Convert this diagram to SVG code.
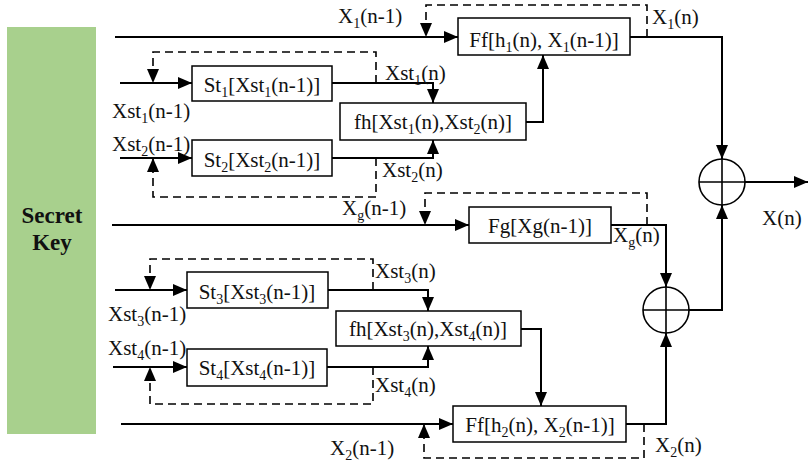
<svg xmlns="http://www.w3.org/2000/svg" width="808" height="464" viewBox="0 0 808 464">
<defs>
<marker id="ah" markerUnits="userSpaceOnUse" markerWidth="15" markerHeight="13" refX="14" refY="6" orient="auto">
<path d="M0,0 L14,6 L0,12 z" fill="#000"/>
</marker>
<style>
.box{fill:#fff;stroke:#000;stroke-width:1.5}
.t{font-family:"Liberation Serif","Times New Roman",serif;font-size:21px;fill:#111}
.s{font-size:14px}
.c{stroke:#000;stroke-width:2;fill:none}
.d{stroke:#000;stroke-width:1.6;fill:none;stroke-dasharray:8 5}
.k{font-family:"Liberation Serif","Times New Roman",serif;font-size:23px;font-weight:bold;fill:#111}
</style>
</defs>
<rect width="808" height="464" fill="#fff"/>

<g id="key">
<rect x="7" y="27" width="89" height="407" fill="#a8d08d"/>
<text class="k" x="52" y="223" text-anchor="middle">Secret</text>
<text class="k" x="52" y="250" text-anchor="middle">Key</text>
</g>

<g id="connectors">
<path class="c" d="M115,37 H458" marker-end="url(#ah)"/>
<path class="d" d="M647,37 V5 H426 V37" marker-end="url(#ah)"/>
<path class="c" d="M630,37 H722 V159" marker-end="url(#ah)"/>
<path class="c" d="M745,182 H808" marker-end="url(#ah)"/>
<path class="c" d="M689,310 H722 V205" marker-end="url(#ah)"/>

<path class="c" d="M120,83 H192" marker-end="url(#ah)"/>
<path class="d" d="M376,83 V52 H153 V83" marker-end="url(#ah)"/>
<path class="c" d="M332,83 H433 V103" marker-end="url(#ah)"/>
<path class="c" d="M120,158 H192" marker-end="url(#ah)"/>
<path class="d" d="M376,158 V197 H153 V158" marker-end="url(#ah)"/>
<path class="c" d="M332,158 H433 V140" marker-end="url(#ah)"/>
<path class="c" d="M526,122 H543 V55" marker-end="url(#ah)"/>

<path class="c" d="M112,225 H469" marker-end="url(#ah)"/>
<path class="d" d="M647,225 V193 H425 V225" marker-end="url(#ah)"/>
<path class="c" d="M611,225 H666 V287" marker-end="url(#ah)"/>

<path class="c" d="M115,290 H187" marker-end="url(#ah)"/>
<path class="d" d="M373,290 V259 H150 V290" marker-end="url(#ah)"/>
<path class="c" d="M328,290 H428 V311" marker-end="url(#ah)"/>
<path class="c" d="M113,367 H187" marker-end="url(#ah)"/>
<path class="d" d="M373,367 V404 H150 V367" marker-end="url(#ah)"/>
<path class="c" d="M327,367 H428 V346" marker-end="url(#ah)"/>
<path class="c" d="M521,329 H541 V406" marker-end="url(#ah)"/>

<path class="c" d="M121,424 H453" marker-end="url(#ah)"/>
<path class="d" d="M644,424 V458 H424 V424" marker-end="url(#ah)"/>
<path class="c" d="M626,424 H666 V333" marker-end="url(#ah)"/>
</g>

<g id="ff1">
<rect class="box" x="458" y="18" width="172" height="37"/>
<text class="t" x="544" y="47" text-anchor="middle">Ff[h<tspan class="s" dy="5">1</tspan><tspan dy="-5">(n), X</tspan><tspan class="s" dy="5">1</tspan><tspan dy="-5">(n-1)]</tspan></text>
</g>
<g id="st1">
<rect class="box" x="192" y="66" width="140" height="35"/>
<text class="t" x="262" y="92" text-anchor="middle">St<tspan class="s" dy="5">1</tspan><tspan dy="-5">[Xst</tspan><tspan class="s" dy="5">1</tspan><tspan dy="-5">(n-1)]</tspan></text>
</g>
<g id="fh1">
<rect class="box" x="340" y="103" width="186" height="37"/>
<text class="t" x="433" y="129" text-anchor="middle">fh[Xst<tspan class="s" dy="5">1</tspan><tspan dy="-5">(n),Xst</tspan><tspan class="s" dy="5">2</tspan><tspan dy="-5">(n)]</tspan></text>
</g>
<g id="st2">
<rect class="box" x="192" y="140" width="140" height="36"/>
<text class="t" x="262" y="167" text-anchor="middle">St<tspan class="s" dy="5">2</tspan><tspan dy="-5">[Xst</tspan><tspan class="s" dy="5">2</tspan><tspan dy="-5">(n-1)]</tspan></text>
</g>
<g id="fg">
<rect class="box" x="469" y="207" width="142" height="36"/>
<text class="t" x="540" y="233" text-anchor="middle">Fg[Xg(n-1)]</text>
</g>
<g id="st3">
<rect class="box" x="187" y="272" width="141" height="36"/>
<text class="t" x="257" y="299" text-anchor="middle">St<tspan class="s" dy="5">3</tspan><tspan dy="-5">[Xst</tspan><tspan class="s" dy="5">3</tspan><tspan dy="-5">(n-1)]</tspan></text>
</g>
<g id="fh2">
<rect class="box" x="336" y="311" width="185" height="35"/>
<text class="t" x="428" y="336" text-anchor="middle">fh[Xst<tspan class="s" dy="5">3</tspan><tspan dy="-5">(n),Xst</tspan><tspan class="s" dy="5">4</tspan><tspan dy="-5">(n)]</tspan></text>
</g>
<g id="st4">
<rect class="box" x="187" y="349" width="140" height="37"/>
<text class="t" x="257" y="375" text-anchor="middle">St<tspan class="s" dy="5">4</tspan><tspan dy="-5">[Xst</tspan><tspan class="s" dy="5">4</tspan><tspan dy="-5">(n-1)]</tspan></text>
</g>
<g id="ff2">
<rect class="box" x="453" y="406" width="173" height="36"/>
<text class="t" x="540" y="432" text-anchor="middle">Ff[h<tspan class="s" dy="5">2</tspan><tspan dy="-5">(n), X</tspan><tspan class="s" dy="5">2</tspan><tspan dy="-5">(n-1)]</tspan></text>
</g>
<g id="sum1">
<circle cx="722" cy="182" r="23" fill="#fff" stroke="#000" stroke-width="1.6"/>
<path d="M699,182 H745 M722,159 V205" stroke="#000" stroke-width="1.6"/>
</g>
<g id="sum2">
<circle cx="666" cy="310" r="23" fill="#fff" stroke="#000" stroke-width="1.6"/>
<path d="M643,310 H689 M666,287 V333" stroke="#000" stroke-width="1.6"/>
</g>

<g id="labels">
<text class="t" x="338" y="23">X<tspan class="s" dy="5">1</tspan><tspan dy="-5">(n-1)</tspan></text>
<text class="t" x="652" y="24">X<tspan class="s" dy="5">1</tspan><tspan dy="-5">(n)</tspan></text>
<text class="t" x="385" y="80">Xst<tspan class="s" dy="5">1</tspan><tspan dy="-5">(n)</tspan></text>
<text class="t" x="112" y="118">Xst<tspan class="s" dy="5">1</tspan><tspan dy="-5">(n-1)</tspan></text>
<text class="t" x="112" y="151">Xst<tspan class="s" dy="5">2</tspan><tspan dy="-5">(n-1)</tspan></text>
<text class="t" x="382" y="177">Xst<tspan class="s" dy="5">2</tspan><tspan dy="-5">(n)</tspan></text>
<text class="t" x="342" y="215">X<tspan class="s" dy="5">g</tspan><tspan dy="-5">(n-1)</tspan></text>
<text class="t" x="613" y="242">X<tspan class="s" dy="5">g</tspan><tspan dy="-5">(n)</tspan></text>
<text class="t" x="762" y="225">X(n)</text>
<text class="t" x="375" y="278">Xst<tspan class="s" dy="5">3</tspan><tspan dy="-5">(n)</tspan></text>
<text class="t" x="108" y="321">Xst<tspan class="s" dy="5">3</tspan><tspan dy="-5">(n-1)</tspan></text>
<text class="t" x="108" y="355">Xst<tspan class="s" dy="5">4</tspan><tspan dy="-5">(n-1)</tspan></text>
<text class="t" x="375" y="392">Xst<tspan class="s" dy="5">4</tspan><tspan dy="-5">(n)</tspan></text>
<text class="t" x="330" y="455">X<tspan class="s" dy="5">2</tspan><tspan dy="-5">(n-1)</tspan></text>
<text class="t" x="655" y="452">X<tspan class="s" dy="5">2</tspan><tspan dy="-5">(n)</tspan></text>
</g>
</svg>
